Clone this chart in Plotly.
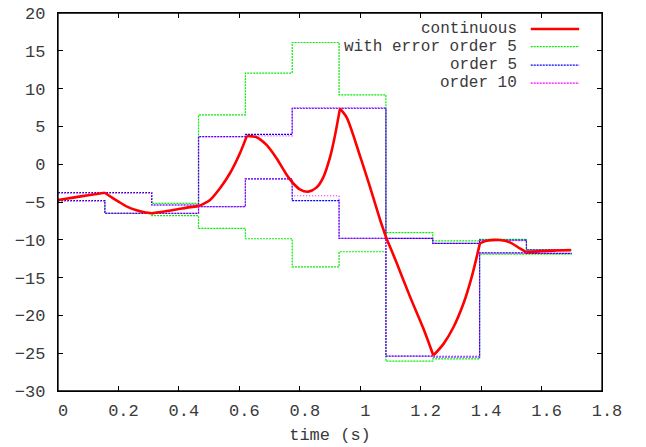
import plotly.graph_objects as go

# ---- data ----
knots_t = [0, 0.155, 0.31, 0.465, 0.62, 0.775, 0.93, 1.085, 1.24, 1.395, 1.55, 1.7]

err5_upper = [-3.77, -3.77, -5.17, 6.53, 12.05, 16.1, 9.18, -9.06, -10.13, -9.94, -11.36]
err5_lower = [-4.83, -6.5, -6.8, -8.49, -9.86, -13.57, -11.58, -26.06, -25.76, -11.9, -11.9]

ord5_upper = [-3.77, -3.77, -5.4, 3.65, 3.95, 7.4, 7.4, -9.81, -10.47, -10.03, -11.32]
ord5_lower = [-4.83, -6.5, -6.5, -5.62, -1.95, -4.83, -9.81, -25.4, -25.5, -11.72, -11.8]

ord10_upper = [-3.77, -3.77, -5.4, 3.65, 3.75, 7.45, 7.45, -9.81, -10.47, -10.1, -11.36]
ord10_lower = [-4.83, -6.5, -6.5, -5.62, -1.95, -4.17, -9.81, -25.4, -25.4, -11.72, -11.8]

# continuous curve samples; kinks of the curve listed separately
cont_kinks = [0.155, 0.31, 0.465, 0.625, 0.933, 1.088, 1.242, 1.396, 1.551]
cont_t = [0, 0.05, 0.1, 0.155, 0.18, 0.2, 0.23, 0.26, 0.29, 0.31, 0.36, 0.41, 0.465,
          0.503, 0.536, 0.569, 0.602, 0.625, 0.657, 0.69, 0.723, 0.757, 0.778, 0.8,
          0.828, 0.855, 0.877, 0.9, 0.915, 0.933, 0.955, 1.0, 1.032, 1.066, 1.088,
          1.119, 1.165, 1.209, 1.242, 1.275, 1.308, 1.341, 1.369, 1.396, 1.418, 1.462,
          1.495, 1.528, 1.551, 1.6, 1.65, 1.697]
cont_y = [-4.73, -4.42, -4.1, -3.77, -4.45, -4.95, -5.65, -6.1, -6.4, -6.5, -6.2, -5.85, -5.55,
          -4.73, -3.18, -1.2, 1.45, 3.75, 3.57, 2.55, 0.79, -1.42, -2.52, -3.32,
          -3.63, -3.1, -1.8, 0.9, 3.5, 7.35, 6.2, 1.0, -2.97, -7.38, -9.94,
          -12.9, -17.55, -21.73, -25.3, -23.8, -21.6, -18.5, -14.9, -10.47, -10.13, -10.03,
          -10.34, -11.13, -11.66, -11.5, -11.42, -11.36]

x_ticks = [0, 0.2, 0.4, 0.6, 0.8, 1, 1.2, 1.4, 1.6, 1.8]
x_tick_text = ["0", "0.2", "0.4", "0.6", "0.8", "1", "1.2", "1.4", "1.6", "1.8"]
y_ticks = [-30, -25, -20, -15, -10, -5, 0, 5, 10, 15, 20]
y_tick_text = ["\u221230", "\u221225", "\u221220", "\u221215", "\u221210", "\u22125",
               "0", "5", "10", "15", "20"]

legend_names = ["continuous", "with error order 5", "order 5", "order 10"]

FONT = "Liberation Mono"
TXT = "#3a3a3a"


def band(upper, lower):
    xs = list(knots_t) + [None] + list(knots_t)
    ys = list(upper) + [upper[-1]] + [None] + list(lower) + [lower[-1]]
    return xs, ys


def split_at_kinks(ts, ys):
    """Break the sample list into smooth pieces that meet at the kinks."""
    xs_out, ys_out = [], []
    for t, y in zip(ts, ys):
        xs_out.append(t)
        ys_out.append(y)
        if t in cont_kinks:
            xs_out += [None, t]
            ys_out += [None, y]
    return xs_out, ys_out


fig = go.Figure()

styles = [
    (err5_upper, err5_lower, "#00ee00", "2px,1px"),
    (ord5_upper, ord5_lower, "#0000ff", "2px,1px"),
    (ord10_upper, ord10_lower, "#ff00ff", "1px,2px"),
]
for up, lo, col, dash in styles:
    xs, ys = band(up, lo)
    fig.add_trace(go.Scatter(x=xs, y=ys, mode="lines", line_shape="hv",
                             line=dict(color=col, width=1.2, dash=dash),
                             connectgaps=False, showlegend=False, hoverinfo="skip"))

cx, cy = split_at_kinks(cont_t, cont_y)
fig.add_trace(go.Scatter(x=cx, y=cy, mode="lines", line_shape="spline",
                         line=dict(color="#ff0000", width=2.6, smoothing=0.8),
                         connectgaps=False, showlegend=False, hoverinfo="skip"))

# manual gnuplot-style legend (text left of sample)
leg_colors = ["#ff0000", "#00ee00", "#0000ff", "#ff00ff"]
leg_dash = ["solid", "2px,1px", "2px,1px", "2px,1px"]
leg_width = [2.6, 1.2, 1.2, 1.2]
leg_y = [0.9576, 0.9110, 0.8622, 0.8145]
shapes = [dict(type="rect", xref="paper", yref="paper", x0=0, x1=1, y0=0, y1=1,
               line=dict(color="black", width=1.3), layer="above")]
annotations = []
for name, col, d, w, yy in zip(legend_names, leg_colors, leg_dash, leg_width, leg_y):
    annotations.append(dict(x=0.8456, y=yy, xref="paper", yref="paper", text=name,
                            showarrow=False, xanchor="right", yanchor="middle",
                            borderpad=0,
                            font=dict(family=FONT, size=16, color=TXT)))
    shapes.append(dict(type="line", xref="paper", yref="paper", x0=0.869, x1=0.958,
                       y0=yy, y1=yy, line=dict(color=col, width=w, dash=d)))

fig.update_layout(
    width=646, height=447,
    margin=dict(l=58, r=44, t=13, b=56),
    paper_bgcolor="white", plot_bgcolor="white",
    font=dict(family=FONT, size=17, color=TXT),
    showlegend=False,
    shapes=shapes, annotations=annotations,
)
fig.update_xaxes(range=[0, 1.8], tickvals=x_ticks, ticktext=x_tick_text,
                 showgrid=False, zeroline=False, showline=True, linecolor="black",
                 linewidth=1.3, mirror="ticks", ticks="inside", ticklen=5,
                 tickcolor="black", tickfont=dict(family=FONT, size=17, color=TXT),
                 ticklabelshift=5, ticklabelstandoff=3, automargin=False,
                 ticklabeloverflow="allow",
                 title=dict(text="time (s)", font=dict(family=FONT, size=17, color=TXT),
                            standoff=8))
fig.update_yaxes(range=[-30, 20], tickvals=y_ticks, ticktext=y_tick_text,
                 showgrid=False, zeroline=False, showline=True, linecolor="black",
                 linewidth=1.3, mirror="ticks", ticks="inside", ticklen=5,
                 tickcolor="black", tickfont=dict(family=FONT, size=17, color=TXT),
                 ticklabelstandoff=8, automargin=False, ticklabeloverflow="allow")

# remove the page's default body margin so the figure sits at the window's corner
fig.write_html("out.html",
               config={"displayModeBar": False},
               post_script="document.body.style.margin='0px';"
                           "document.body.style.overflow='hidden';")
